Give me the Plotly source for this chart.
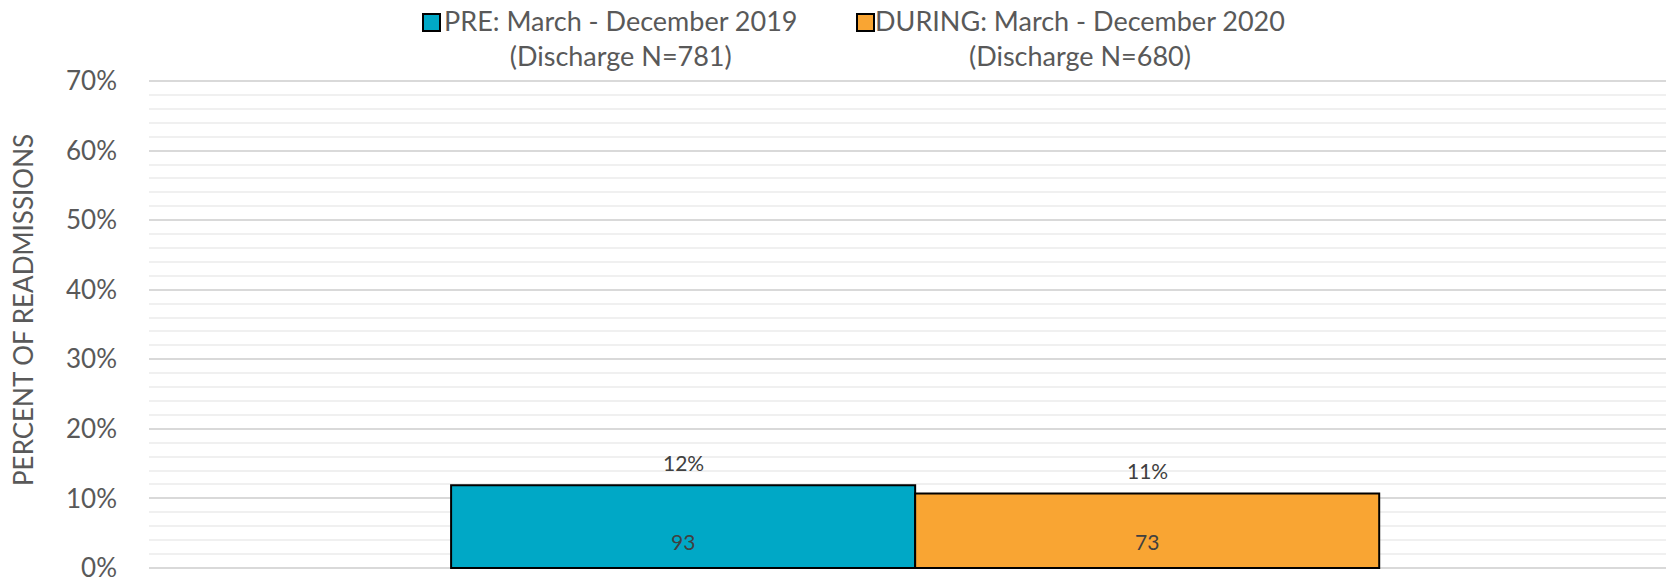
import plotly.graph_objects as go

# Readmission data
periods = ["PRE", "DURING"]
legend_labels = [
    "PRE: March - December 2019<br>(Discharge N=781)",
    "DURING: March - December 2020<br>(Discharge N=680)",
]
readmit_pct = [0.119, 0.107]
readmit_counts = [93, 73]
bar_colors = ["#00A8C6", "#F9A533"]
y_ticks = [0, 0.1, 0.2, 0.3, 0.4, 0.5, 0.6, 0.7]

W, H = 1667, 580
L, R, T, B = 149, 1, 80, 11
FONT = "Lato"
GREY = "#595959"
DARK = "#404040"

fig = go.Figure()
for i, p in enumerate(periods):
    fig.add_trace(go.Bar(
        x=[p], y=[readmit_pct[i]], width=1,
        marker=dict(color=bar_colors[i], line=dict(color="#000000", width=2)),
        showlegend=False, hoverinfo="skip",
    ))
    # percentage above the bar
    fig.add_annotation(x=p, y=readmit_pct[i], text=f"{readmit_pct[i]:.0%}",
                       showarrow=False, yanchor="middle", yshift=23,
                       font=dict(family=FONT, size=21, color=DARK))
    # count near the base of the bar
    fig.add_annotation(x=p, y=0, text=str(readmit_counts[i]),
                       showarrow=False, yanchor="middle", yshift=26,
                       font=dict(family=FONT, size=21, color=DARK))

pw = W - L - R
ph = H - T - B
def px_to_paper(px):
    return (px - L) / pw

# legend: swatch + two-line centred label
legend_items = [(423, 445, 620), (857, 883, 1080)]
for (sx, tx, cx), lab, col in zip(legend_items, legend_labels, bar_colors):
    fig.add_shape(type="rect", xref="paper", yref="paper",
                  x0=px_to_paper(sx), x1=px_to_paper(sx + 17),
                  y0=1 + (T - 31) / ph, y1=1 + (T - 14) / ph,
                  fillcolor=col, line=dict(color="#000000", width=2))
    fig.add_annotation(xref="paper", yref="paper", x=px_to_paper(cx),
                       y=1 + (T - 2) / ph, yanchor="top", xanchor="center",
                       text=lab, align="center", showarrow=False,
                       font=dict(family=FONT, size=27, color=GREY))

# y-axis title
fig.add_annotation(xref="paper", yref="paper", x=px_to_paper(23), y=(H - B - 310) / ph,
                   text="PERCENT OF READMISSIONS", textangle=-90, showarrow=False,
                   xanchor="center", yanchor="middle",
                   font=dict(family=FONT, size=26, color=GREY))

fig.update_layout(
    width=W, height=H,
    margin=dict(l=L, r=R, t=T, b=B, autoexpand=False),
    paper_bgcolor="white", plot_bgcolor="white",
    barmode="overlay", showlegend=False,
    font=dict(family=FONT, color=GREY),
)
fig.update_xaxes(type="category", categoryorder="array", categoryarray=periods,
                 range=[-1.151, 2.118], showticklabels=False, showgrid=False,
                 zeroline=False, showline=False, ticks="", automargin=False)
fig.update_yaxes(range=[-0.0015, 0.7015], tickvals=y_ticks, tickformat=".0%",
                 tickfont=dict(family=FONT, size=26, color=GREY),
                 showgrid=True, gridcolor="#D9D9D9", gridwidth=1.5,
                 minor=dict(dtick=0.02, showgrid=True, gridcolor="#F0F0F0", gridwidth=1.5),
                 zeroline=False, showline=False, ticks="", ticklabelstandoff=31,
                 ticklabeloverflow="allow", automargin=False)

fig.write_html("out.html")
